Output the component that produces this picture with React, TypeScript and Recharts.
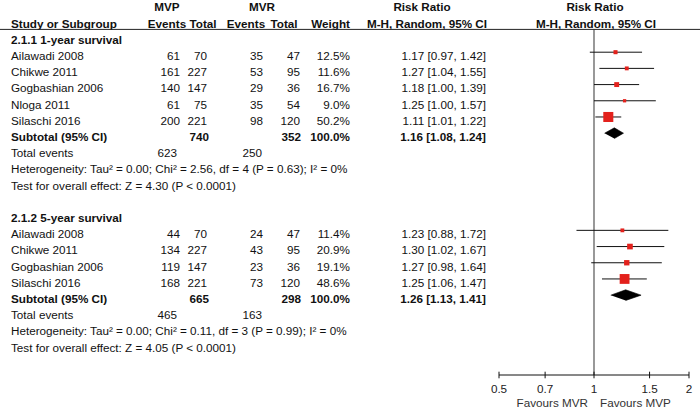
import React from 'react';
import { ComposedChart, Scatter, XAxis, YAxis, ReferenceLine, ErrorBar } from 'recharts';

if (typeof document !== 'undefined') {
  document.body.style.margin = '0';
}

const FONT = '"Liberation Sans", Arial, Helvetica, sans-serif';
const FS = 11.7;

// ---------- data ----------
const groupTitles = ['2.1.1 1-year survival', '2.1.2 5-year survival'];
const groupStartRows = [0, 11];

const g1Studies = ['Ailawadi 2008', 'Chikwe 2011', 'Gogbashian 2006', 'Nloga 2011', 'Silaschi 2016'];
const g1MvpEvents = [61, 161, 140, 61, 200];
const g1MvpTotal = [70, 227, 147, 75, 221];
const g1MvrEvents = [35, 53, 29, 35, 98];
const g1MvrTotal = [47, 95, 36, 54, 120];
const g1Weight = [12.5, 11.6, 16.7, 9.0, 50.2];
const g1RR = [1.17, 1.27, 1.18, 1.25, 1.11];
const g1Low = [0.97, 1.04, 1.0, 1.0, 1.01];
const g1High = [1.42, 1.55, 1.39, 1.57, 1.22];

const g2Studies = ['Ailawadi 2008', 'Chikwe 2011', 'Gogbashian 2006', 'Silaschi 2016'];
const g2MvpEvents = [44, 134, 119, 168];
const g2MvpTotal = [70, 227, 147, 221];
const g2MvrEvents = [24, 43, 23, 73];
const g2MvrTotal = [47, 95, 36, 120];
const g2Weight = [11.4, 20.9, 19.1, 48.6];
const g2RR = [1.23, 1.3, 1.27, 1.25];
const g2Low = [0.88, 1.02, 0.98, 1.06];
const g2High = [1.72, 1.67, 1.64, 1.47];

const subtotalMvpTotal = [740, 665];
const subtotalMvrTotal = [352, 298];
const subtotalWeight = [100.0, 100.0];
const subtotalRR = [1.16, 1.26];
const subtotalLow = [1.08, 1.13];
const subtotalHigh = [1.24, 1.41];
const totalEventsMvp = [623, 465];
const totalEventsMvr = [250, 163];
const heterogeneity = [
  'Heterogeneity: Tau² = 0.00; Chi² = 2.56, df = 4 (P = 0.63); I² = 0%',
  'Heterogeneity: Tau² = 0.00; Chi² = 0.11, df = 3 (P = 0.99); I² = 0%',
];
const overallEffect = [
  'Test for overall effect: Z = 4.30 (P < 0.0001)',
  'Test for overall effect: Z = 4.05 (P < 0.0001)',
];

const axisTicks = [0.5, 0.7, 1, 1.5, 2];
const favoursLeft = 'Favours MVR';
const favoursRight = 'Favours MVP';

// ---------- layout helpers ----------
const COL = { name: 11, mvpE: 180, mvpT: 207, mvrE: 263, mvrT: 300, wt: 350, rr: 486, teMvp: 177, teMvr: 262 };

type Cell = { x: number; t: string; a: 'start' | 'middle' | 'end'; b?: boolean };
type Row = { x: number; y: number; cells: Cell[]; underline?: boolean };

const fmtRR = (r: number, l: number, h: number) => `${r.toFixed(2)} [${l.toFixed(2)}, ${h.toFixed(2)}]`;

const groups = [
  { studies: g1Studies, mvpE: g1MvpEvents, mvpT: g1MvpTotal, mvrE: g1MvrEvents, mvrT: g1MvrTotal, w: g1Weight, rr: g1RR, lo: g1Low, hi: g1High },
  { studies: g2Studies, mvpE: g2MvpEvents, mvpT: g2MvpTotal, mvrE: g2MvrEvents, mvrT: g2MvrTotal, w: g2Weight, rr: g2RR, lo: g2Low, hi: g2High },
];

const textRows: Row[] = [
  {
    x: 1,
    y: -2,
    cells: [
      { x: 167, t: 'MVP', a: 'middle', b: true },
      { x: 262, t: 'MVR', a: 'middle', b: true },
      { x: 422, t: 'Risk Ratio', a: 'middle', b: true },
      { x: 595, t: 'Risk Ratio', a: 'middle', b: true },
    ],
  },
  {
    x: 1,
    y: -1,
    underline: true,
    cells: [
      { x: COL.name, t: 'Study or Subgroup', a: 'start', b: true },
      { x: 167, t: 'Events', a: 'middle', b: true },
      { x: 203, t: 'Total', a: 'middle', b: true },
      { x: 246, t: 'Events', a: 'middle', b: true },
      { x: 284, t: 'Total', a: 'middle', b: true },
      { x: COL.wt, t: 'Weight', a: 'end', b: true },
      { x: 427, t: 'M-H, Random, 95% CI', a: 'middle', b: true },
      { x: 596, t: 'M-H, Random, 95% CI', a: 'middle', b: true },
    ],
  },
];

groups.forEach((g, gi) => {
  const s = groupStartRows[gi];
  textRows.push({ x: 1, y: s, cells: [{ x: COL.name, t: groupTitles[gi], a: 'start', b: true }] });
  g.studies.forEach((name, i) => {
    textRows.push({
      x: 1,
      y: s + 1 + i,
      cells: [
        { x: COL.name, t: name, a: 'start' },
        { x: COL.mvpE, t: String(g.mvpE[i]), a: 'end' },
        { x: COL.mvpT, t: String(g.mvpT[i]), a: 'end' },
        { x: COL.mvrE, t: String(g.mvrE[i]), a: 'end' },
        { x: COL.mvrT, t: String(g.mvrT[i]), a: 'end' },
        { x: COL.wt, t: `${g.w[i].toFixed(1)}%`, a: 'end' },
        { x: COL.rr, t: fmtRR(g.rr[i], g.lo[i], g.hi[i]), a: 'end' },
      ],
    });
  });
  const sub = s + 1 + g.studies.length;
  textRows.push({
    x: 1,
    y: sub,
    cells: [
      { x: COL.name, t: 'Subtotal (95% CI)', a: 'start', b: true },
      { x: COL.mvpT + 2, t: String(subtotalMvpTotal[gi]), a: 'end', b: true },
      { x: COL.mvrT + 1, t: String(subtotalMvrTotal[gi]), a: 'end', b: true },
      { x: COL.wt, t: `${subtotalWeight[gi].toFixed(1)}%`, a: 'end', b: true },
      { x: COL.rr, t: fmtRR(subtotalRR[gi], subtotalLow[gi], subtotalHigh[gi]), a: 'end', b: true },
    ],
  });
  textRows.push({
    x: 1,
    y: sub + 1,
    cells: [
      { x: COL.name, t: 'Total events', a: 'start' },
      { x: COL.teMvp, t: String(totalEventsMvp[gi]), a: 'end' },
      { x: COL.teMvr, t: String(totalEventsMvr[gi]), a: 'end' },
    ],
  });
  textRows.push({ x: 1, y: sub + 2, cells: [{ x: COL.name, t: heterogeneity[gi], a: 'start' }] });
  textRows.push({ x: 1, y: sub + 3, cells: [{ x: COL.name, t: overallEffect[gi], a: 'start' }] });
});

const studyPoints = groups.map((g, gi) =>
  g.studies.map((_, i) => ({
    x: g.rr[i],
    y: groupStartRows[gi] + 1 + i,
    err: [g.rr[i] - g.lo[i], g.hi[i] - g.rr[i]],
    w: g.w[i],
  }))
);

const DIAMOND_HALF = 0.33;
const diamonds = groups.map((g, gi) => {
  const r = groupStartRows[gi] + 1 + g.studies.length;
  return [
    { x: subtotalLow[gi], y: r },
    { x: subtotalRR[gi], y: r - DIAMOND_HALF },
    { x: subtotalHigh[gi], y: r },
    { x: subtotalRR[gi], y: r + DIAMOND_HALF },
  ];
});

// ---------- shapes ----------
const TextRowShape = (props: any) => {
  const { cy, payload } = props;
  const row: Row = payload;
  return (
    <g>
      {row.cells.map((c, i) => (
        <text
          key={i}
          x={c.x}
          y={cy + 7.8}
          textAnchor={c.a}
          fontFamily={FONT}
          fontSize={FS}
          fontWeight={c.b ? 'bold' : 'normal'}
          fill="#111"
        >
          {c.t}
        </text>
      ))}
      {row.underline && <line x1={0} x2={700} y1={cy + 9.6} y2={cy + 9.6} stroke="#222" strokeWidth={1} />}
    </g>
  );
};

const SquareShape = (props: any) => {
  const { cx, cy, payload } = props;
  const s = 10 * Math.pow(payload.w / 50, 0.65);
  return <rect x={cx - s / 2} y={cy - s / 2} width={s} height={s} fill="#e3211c" />;
};

const NoShape = () => <g />;

const AxisTick = (props: any) => {
  const { x, y, payload } = props;
  const v = payload.value;
  return (
    <g>
      <line x1={x} x2={x} y1={y - 3.3} y2={y + 3.3} stroke="#111" strokeWidth={1} />
      <text x={x} y={y + 17.5} textAnchor="middle" fontFamily={FONT} fontSize={FS} fill="#222">
        {String(v)}
      </text>
      {v === 1 && (
        <>
          <text x={x - 6} y={y + 32} textAnchor="end" fontFamily={FONT} fontSize={FS} fill="#333">
            {favoursLeft}
          </text>
          <text x={x + 6} y={y + 32} textAnchor="start" fontFamily={FONT} fontSize={FS} fill="#333">
            {favoursRight}
          </text>
        </>
      )}
    </g>
  );
};

const Y_TOP = -2.222;
const Y_BOTTOM = 20.93;

export default function App() {
  return (
    <div style={{ width: 700, height: 408, background: '#fff' }}>
      <ComposedChart width={700} height={408} margin={{ top: 0, right: 11, bottom: 3, left: 499 }}>
        <XAxis
          type="number"
          dataKey="x"
          scale="log"
          domain={[0.5, 2]}
          ticks={axisTicks}
          interval={0}
          tickSize={0}
          tickMargin={0}
          tickLine={false}
          axisLine={{ stroke: '#111', strokeWidth: 1 }}
          tick={<AxisTick />}
          height={30}
        />
        <YAxis type="number" dataKey="y" domain={[Y_TOP, Y_BOTTOM]} reversed hide />
        <ReferenceLine
          segment={[
            { x: 1, y: -0.42 },
            { x: 1, y: Y_BOTTOM },
          ]}
          stroke="#7f7f7f"
          strokeWidth={1.6}
          ifOverflow="visible"
        />
        <Scatter data={textRows} shape={TextRowShape} isAnimationActive={false} />
        {studyPoints.map((pts, gi) => (
          <Scatter key={`ci${gi}`} data={pts} shape={NoShape} isAnimationActive={false}>
            <ErrorBar dataKey="err" direction="x" width={0} stroke="#111" strokeWidth={1} isAnimationActive={false} />
          </Scatter>
        ))}
        {studyPoints.map((pts, gi) => (
          <Scatter key={`sq${gi}`} data={pts} shape={SquareShape} isAnimationActive={false} />
        ))}
        {diamonds.map((pts, gi) => (
          <Scatter
            key={`dm${gi}`}
            data={pts}
            shape={NoShape}
            line={{ fill: '#000', stroke: '#000', strokeWidth: 0.6 }}
            lineType="joint"
            isAnimationActive={false}
          />
        ))}
      </ComposedChart>
    </div>
  );
}
